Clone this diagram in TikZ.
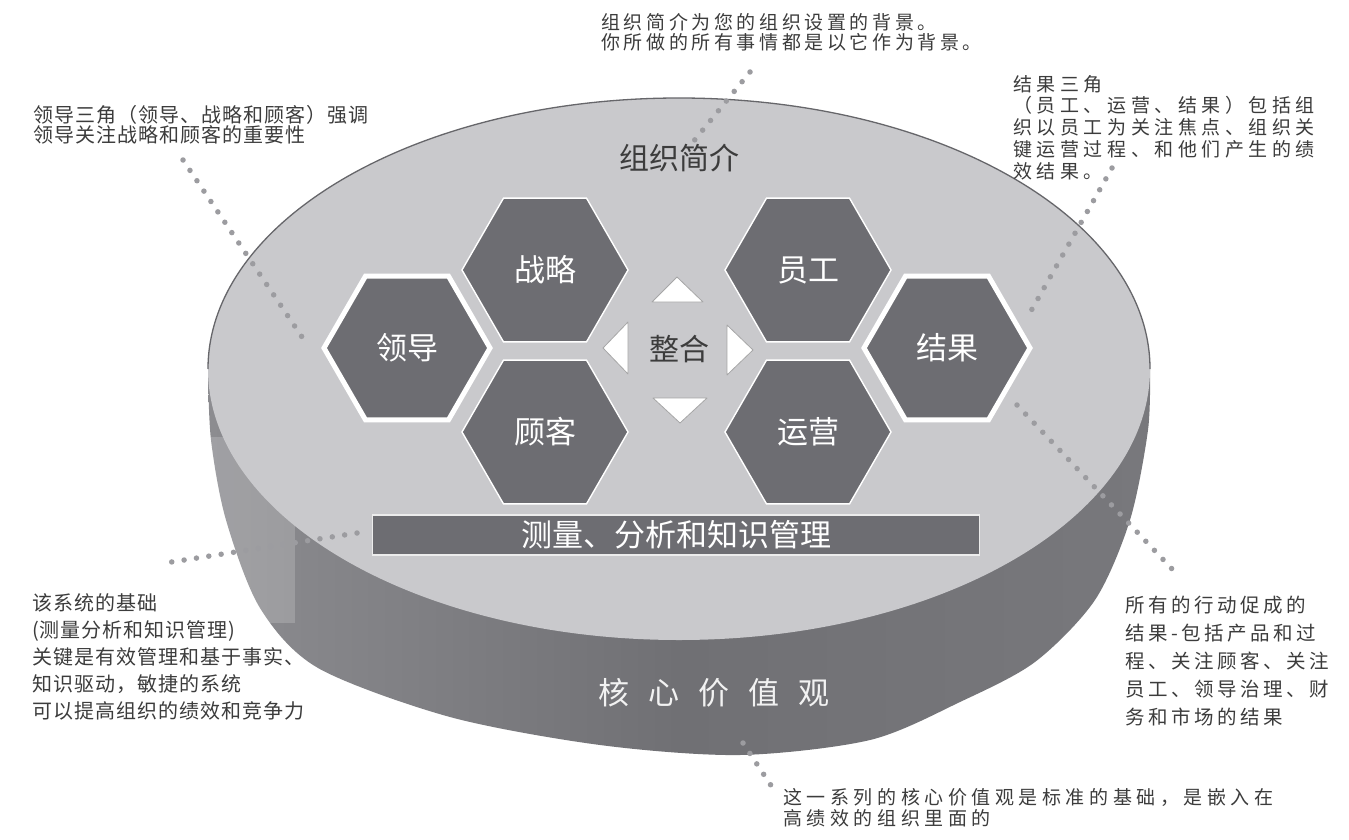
\documentclass[tikz,border=0pt]{standalone}
\usepackage{fontspec}
\setmainfont{Noto Sans CJK SC}
\newfontfamily\cjk{Noto Sans CJK SC}
\newfontfamily\cjkA[LetterSpace=19]{Noto Sans CJK SC}
\newfontfamily\cjkB[LetterSpace=5]{Noto Sans CJK SC}
\newfontfamily\cjkC[LetterSpace=24]{Noto Sans CJK SC}
\newfontfamily\cjkD[LetterSpace=18]{Noto Sans CJK SC}
\usetikzlibrary{shapes.geometric}
\definecolor{topface}{HTML}{C9C9CC}
\definecolor{hexfill}{HTML}{6D6D72}
\definecolor{sidemid}{HTML}{707074}
\definecolor{sideleft}{HTML}{8C8C90}
\definecolor{sideright}{HTML}{78787C}
\definecolor{dotgray}{HTML}{9C9CA0}
\definecolor{txtgray}{HTML}{3C3C3C}
\definecolor{rimgray}{HTML}{66666A}
\tikzset{
  hexbox/.style={regular polygon, regular polygon sides=6, minimum size=166pt,
    inner sep=0pt, fill=hexfill, draw=white, line width=1.4pt, text=white,
    font=\cjk\fontsize{31}{31}\selectfont},
  hexbold/.style={hexbox, line width=5pt},
  note/.style={anchor=north west, inner sep=0pt, align=left, text=txtgray},
  dotline/.style={draw=dotgray, line width=5.5pt, line cap=round, dash pattern=on 0pt off 12.5pt},
  tri/.style={fill=white, draw=gray!70, line width=0.8pt, line join=round},
  midlabel/.style={inner sep=0pt, text=txtgray, font=\cjk\fontsize{30}{30}\selectfont}
}
\begin{document}
\begin{tikzpicture}[x=1pt,y=-1pt]
\useasboundingbox (0,0) rectangle (1349,840);
\fill[white] (0,0) rectangle (1349,840);

% cylinder side
\shade[left color=sideleft, right color=sideright, middle color=sidemid]
  plot[smooth] coordinates {(208,369) (211,440) (226,520) (260,608) (318,668) (450,717) (600,745) (740,755) (870,740) (960,702) (1035,662) (1095,600) (1130,520) (1148,430) (1150,369)} -- cycle;
\fill[white, opacity=0.18] (200,437) rectangle (295,623);

% top face
\fill[topface] (679,369) ellipse [x radius=471pt, y radius=271pt];
\draw[rimgray, line width=1.3pt] (208,369) arc[start angle=180, end angle=0, x radius=471pt, y radius=271pt];

% title on top face
\node[midlabel] (profile) at (679,158) {组织简介};

% hexagons
\node[hexbox] (strategy) at (545,270) {战略};
\node[hexbox] (customer) at (545,432) {顾客};
\node[hexbox] (staff) at (808,270) {员工};
\node[hexbox] (ops) at (808,432) {运营};
\node[hexbold] (lead) at (407,348) {领导};
\node[hexbold] (result) at (947,348) {结果};

% integration
\node[midlabel] (integ) at (679,349) {整合};
\draw[tri] (677,277) -- (703,302) -- (652,302) -- cycle;
\draw[tri] (680,423) -- (653,398) -- (707,398) -- cycle;
\draw[tri] (603,348) -- (628,322) -- (628,374) -- cycle;
\draw[tri] (753,350) -- (727,325) -- (727,375) -- cycle;

% measurement bar
\node[draw=white!85!gray, line width=1.4pt, fill=hexfill, minimum width=607pt, minimum height=40pt,
  inner sep=0pt, text=white, font=\cjk\fontsize{31}{31}\selectfont] (measure) at (676,535) {测量、分析和知识管理\hspace{20pt}};

% core values
\node[inner sep=0pt, text=white!90!gray, font=\cjk\fontsize{31}{31}\selectfont] (core) at (714,693)
  {核\hspace{19pt}心\hspace{19pt}价\hspace{19pt}值\hspace{19pt}观};

% annotations
\node[note, font=\cjkA\fontsize{19}{20.5}\selectfont] (nprofile) at (601,13)
  {组织简介为您的组织设置的背景。\\你所做的所有事情都是以它作为背景。};
\node[note, font=\cjkB\fontsize{20}{20.5}\selectfont] (nlead) at (33,105)
  {领导三角（领导、战略和顾客）强调\\领导关注战略和顾客的重要性};
\node[note, font=\cjkC\fontsize{19}{21.7}\selectfont] (nresult) at (1013,75)
  {结果三角\\（员工、运营、结果）包括组\\织以员工为关注焦点、组织关\\键运营过程、和他们产生的绩\\效结果。};
\node[note, font=\cjkB\fontsize{20}{27}\selectfont] (nmeasure) at (32,593)
  {该系统的基础\\(测量分析和知识管理)\\关键是有效管理和基于事实、\\知识驱动，敏捷的系统\\可以提高组织的绩效和竞争力};
\node[note, font=\cjkD\fontsize{19.5}{28}\selectfont] (nall) at (1125,596)
  {所有的行动促成的\\结果-包括产品和过\\程、关注顾客、关注\\员工、领导治理、财\\务和市场的结果};
\node[note, font=\cjkC\fontsize{19}{21.7}\selectfont] (ncore) at (783,788)
  {这一系列的核心价值观是标准的基础，是嵌入在\\高绩效的组织里面的};

% dotted connectors
\coordinate (a1) at (750,72);  \coordinate (a2) at (693,142);
\coordinate (b1) at (183,160); \coordinate (b2) at (302,337);
\coordinate (c1) at (1112,168); \coordinate (c2) at (1027,318);
\coordinate (d1) at (1017,405); \coordinate (d2) at (1173,570);
\coordinate (e1) at (357,533); \coordinate (e2) at (165,563);
\coordinate (f1) at (743,743); \coordinate (f2) at (774,790);
\draw[dotline] (a1) -- (a2);
\draw[dotline] (b1) -- (b2);
\draw[dotline] (c1) -- (c2);
\draw[dotline] (d1) -- (d2);
\draw[dotline] (e1) -- (e2);
\draw[dotline] (f1) -- (f2);
\end{tikzpicture}
\end{document}
